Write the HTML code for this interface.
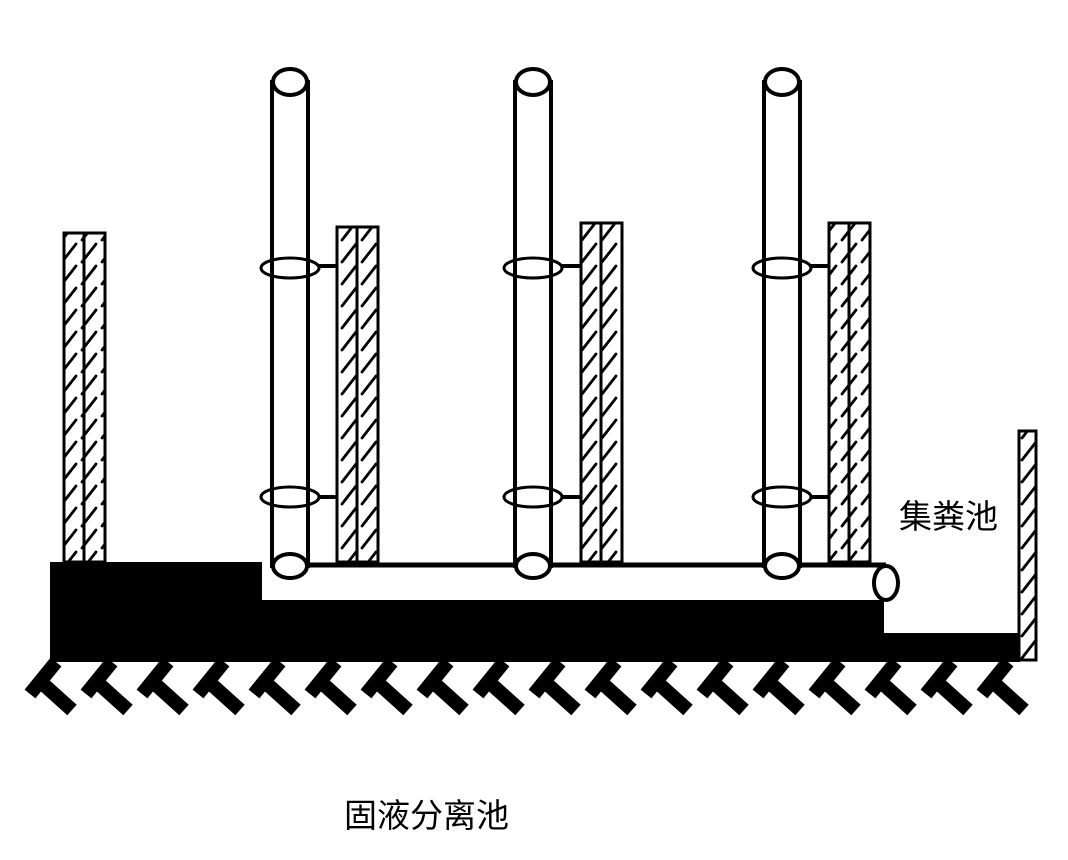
<!DOCTYPE html>
<html><head><meta charset="utf-8"><style>
html,body{margin:0;padding:0;background:#fff;width:1068px;height:860px;overflow:hidden}
</style></head><body>
<svg width="1068" height="860" viewBox="0 0 1068 860" xmlns="http://www.w3.org/2000/svg">
<defs>
<pattern id="h" width="20" height="22" patternUnits="userSpaceOnUse">
<rect width="20" height="22" fill="#fff"/>
<path d="M2 20 L16 2" stroke="#000" stroke-width="2.8" stroke-linecap="round"/>
</pattern>
</defs>
<rect x="50" y="562" width="212" height="100" fill="#000"/>
<rect x="262" y="601" width="622" height="61" fill="#000"/>
<rect x="884" y="633" width="136" height="29" fill="#000"/>
<g stroke="#000" stroke-width="14" stroke-linecap="butt">
<g id="t"><path d="M56 662 L30 694"/><path d="M42 683 L72 710"/></g>
<use href="#t" x="56"/><use href="#t" x="112"/><use href="#t" x="168"/><use href="#t" x="224"/><use href="#t" x="280"/><use href="#t" x="336"/><use href="#t" x="392"/><use href="#t" x="448"/><use href="#t" x="504"/><use href="#t" x="560"/><use href="#t" x="616"/><use href="#t" x="672"/><use href="#t" x="728"/><use href="#t" x="784"/><use href="#t" x="840"/><use href="#t" x="896"/><use href="#t" x="952"/>
</g>
<g stroke="#000" stroke-width="3" fill="url(#h)">
<rect x="64" y="233" width="20" height="329"/><rect x="84" y="233" width="21" height="329"/>
<rect x="337" y="227" width="20" height="335"/><rect x="357" y="227" width="21" height="335"/>
<rect x="581" y="223" width="20" height="339"/><rect x="601" y="223" width="21" height="339"/>
<rect x="829" y="223" width="20" height="339"/><rect x="849" y="223" width="21" height="339"/>
<rect x="1019" y="431" width="17" height="229"/>
</g>
<rect x="290" y="565" width="596" height="36" fill="#fff"/>
<line x1="290" y1="565" x2="886" y2="565" stroke="#000" stroke-width="5"/>
<line x1="262" y1="601" x2="884" y2="601" stroke="#000" stroke-width="2"/>
<ellipse cx="886" cy="583" rx="12" ry="17" fill="#fff" stroke="#000" stroke-width="4"/>
<g stroke="#000" stroke-width="4">
<g id="p">
<rect x="272" y="82" width="36" height="484" fill="#fff"/>
<ellipse cx="290" cy="82" rx="17" ry="13" fill="#fff"/>
<ellipse cx="290" cy="566" rx="17" ry="12" fill="#fff"/>
<ellipse cx="290" cy="268" rx="29" ry="10" fill="none" stroke-width="3"/>
<ellipse cx="290" cy="497" rx="29" ry="10" fill="none" stroke-width="3"/>
<line x1="319" y1="266" x2="337" y2="266"/>
<line x1="319" y1="497" x2="337" y2="497"/>
</g>
<use href="#p" x="243"/>
<use href="#p" x="492"/>
</g>
<text x="899" y="528" font-family="Liberation Sans, Noto Sans CJK SC, sans-serif" font-size="33" fill="#000">集粪池</text>
<text x="344" y="827" font-family="Liberation Sans, Noto Sans CJK SC, sans-serif" font-size="33" fill="#000">固液分离池</text>
</svg>
</body></html>
